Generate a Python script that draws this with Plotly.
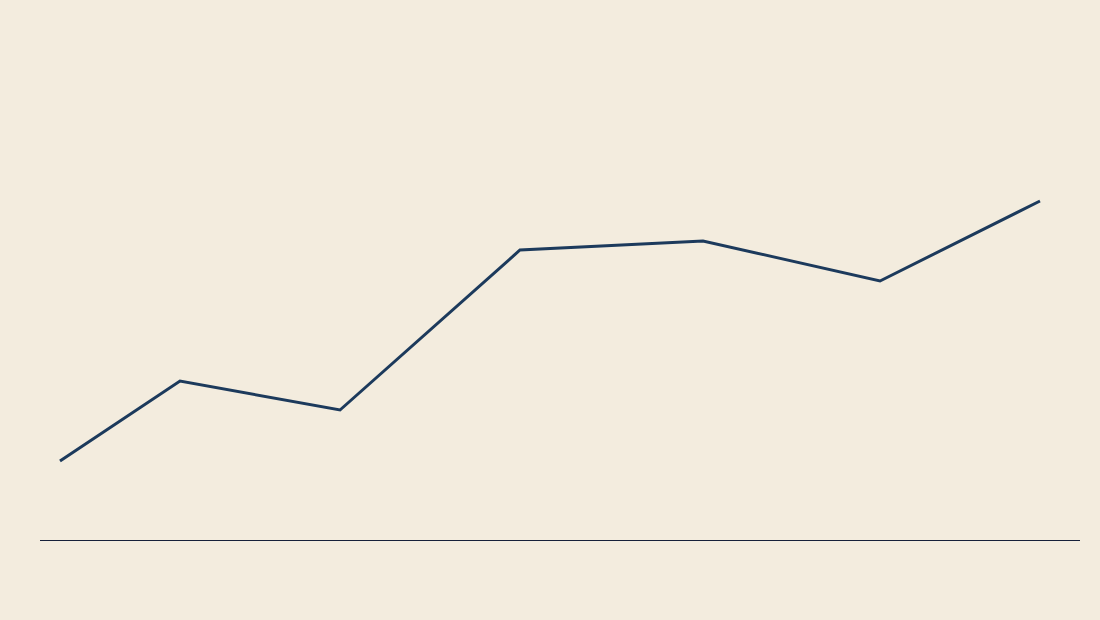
import plotly.graph_objects as go

# values
x_pos = [1, 7, 15, 24, 33.15, 42, 50]
values = [15.8, 31.8, 26.0, 58.0, 59.8, 51.8, 67.8]

bg = '#F3ECDE'

fig = go.Figure(data=go.Scatter(
        x = x_pos,
        y = values,
        mode = 'lines',
        line = dict(color='#1C3A5C', width=3),
        hoverinfo = 'skip',
        ))

fig.update_layout(
        width = 1100,
        height = 620,
        paper_bgcolor = bg,
        plot_bgcolor = bg,
        margin = dict(l=40, r=20, t=40, b=80),
        showlegend = False,
        xaxis = dict(range=[0, 52], showgrid=False, zeroline=False,
                     showticklabels=False, ticks='', showline=True,
                     linecolor='#16203A', linewidth=1),
        yaxis = dict(range=[0, 100], showgrid=False, zeroline=False,
                     showticklabels=False, ticks='', showline=False),
    )
# drop the browser's default page margin so the figure sits at 0,0
fig.write_html('out.html', config={'displayModeBar': False},
               post_script="document.body.style.margin='0';document.body.style.background='%s';" % bg)
